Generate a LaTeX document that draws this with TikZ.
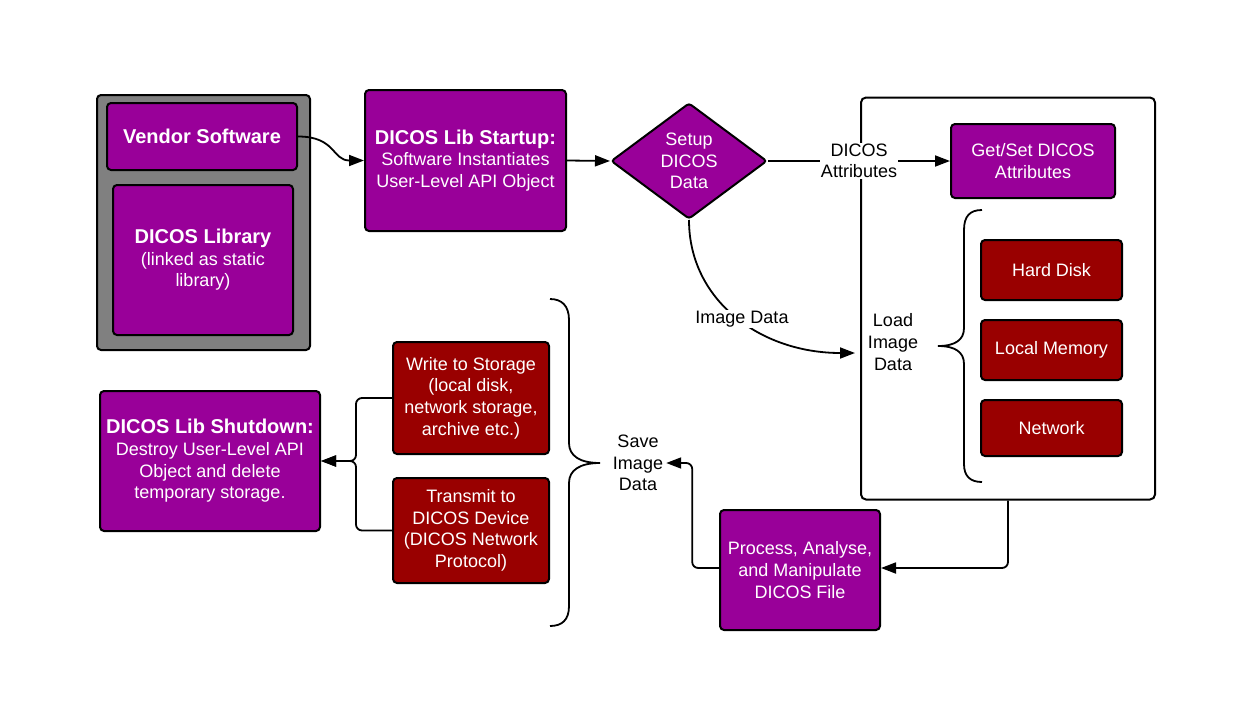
\documentclass[tikz,border=0pt]{standalone}
\usepackage{fontspec}
\setmainfont{Liberation Sans}
\usetikzlibrary{arrows.meta,shapes.geometric}
\definecolor{purp}{RGB}{153,0,153}
\definecolor{dred}{RGB}{153,0,0}
\definecolor{grayf}{RGB}{128,128,128}
\newcommand\hdr[1]{{\fontsize{20}{22}\selectfont\bfseries #1}}
\begin{document}
\begin{tikzpicture}[x=1pt,y=-1pt,
 box/.style={draw=black,line width=2pt,rounded corners=4pt,text=white,align=center,inner sep=0pt,font=\fontsize{18}{21.6}\selectfont},
 pbox/.style={box,fill=purp},
 rbox/.style={box,fill=dred},
 lbl/.style={align=center,font=\fontsize{18}{21.6}\selectfont,inner sep=1pt},
 conn/.style={line width=1.8pt,-{Triangle[length=15pt,width=11pt]}},
 plain/.style={line width=1.8pt},
]
\useasboundingbox (0,0) rectangle (1247,720);
\fill[white] (0,0) rectangle (1247,720);

% left column
\node[draw,line width=2pt,rounded corners=4pt,fill=grayf,minimum width=213pt,minimum height=255pt,inner sep=0pt] (vendorframe) at (203.5,222.5) {};
\node[pbox,minimum width=190pt,minimum height=67pt] (vendor) at (202,136.5) {\hdr{Vendor Software}};
\node[pbox,minimum width=180pt,minimum height=150pt] (library) at (203,260) {\hdr{DICOS Library}\\(linked as static\\library)};
\node[pbox,minimum width=201pt,minimum height=141pt] (startup) at (465.5,160.5) {\hdr{DICOS Lib Startup:}\\Software Instantiates\\User-Level API Object};
\node[pbox,shape=diamond,minimum width=156pt,minimum height=116pt,rounded corners=3pt] (setup) at (689,161) {Setup\\DICOS\\Data};

% right frame
\node[draw,line width=2pt,rounded corners=5pt,fill=white,minimum width=294pt,minimum height=402pt,inner sep=0pt] (loadframe) at (1008,298.5) {};
\node[pbox,minimum width=164pt,minimum height=74pt] (getset) at (1033,161) {Get/Set DICOS\\Attributes};
\node[rbox,minimum width=141pt,minimum height=60pt] (hdd) at (1051.5,270) {Hard Disk};
\node[rbox,minimum width=141pt,minimum height=60pt] (mem) at (1051.5,350) {Local Memory};
\node[rbox,minimum width=141pt,minimum height=56pt] (net) at (1051.5,428) {Network};
\node[lbl] (loadlbl) at (893,342) {Load\\Image\\Data};

% bottom
\node[pbox,minimum width=160pt,minimum height=120pt] (process) at (800,570) {Process, Analyse,\\and Manipulate\\DICOS File};
\node[lbl] (savelbl) at (638,463) {Save\\Image\\Data};
\node[rbox,minimum width=156pt,minimum height=112pt] (write) at (471,398) {Write to Storage\\(local disk,\\network storage,\\archive etc.)};
\node[rbox,minimum width=156pt,minimum height=105pt] (transmit) at (471,530.5) {Transmit to\\DICOS Device\\(DICOS Network\\Protocol)};
\node[pbox,minimum width=220pt,minimum height=140pt] (shutdown) at (210,461) {\hdr{DICOS Lib Shutdown:}\\Destroy User-Level API\\Object and delete\\temporary storage.};

% connectors
\draw[conn] (vendor.east) .. controls +(38,0) and +(-32,0) .. (startup.west);
\draw[conn] (startup.east) -- (setup.west);
\draw[conn] (setup.east) -- node[lbl,fill=white] (attrlbl) {DICOS\\Attributes} (getset.west);
\coordinate (imgin) at (855,353);
\draw[conn] (setup.south) .. controls (689,300) and (760,353) .. (imgin);
\node[lbl,fill=white] (imglbl) at (742,319) {Image Data};
\draw[conn,rounded corners=6pt] (loadframe.south) |- ([yshift=2pt]process.east);
\draw[conn,rounded corners=6pt] ([yshift=2pt]process.west) -| ([xshift=28pt]savelbl.east) -- ([xshift=2pt]savelbl.east);
\coordinate (join) at (356,461);
\draw[conn,rounded corners=6pt] (write.west) -| (join) -- (shutdown.east);
\draw[conn,rounded corners=6pt] (transmit.west) -| (join) -- (shutdown.east);

% braces
\draw[plain] (982,210) .. controls (970,210) and (964,216) .. (964,230) -- (964,328)
  .. controls (964,340) and (955,346) .. (938,346)
  .. controls (955,346) and (964,352) .. (964,364) -- (964,464)
  .. controls (964,476) and (970,482) .. (982,482);
\draw[plain] (550,299) .. controls (562,299) and (569,306) .. (569,320) -- (569,443)
  .. controls (569,456) and (580,463) .. (600,463)
  .. controls (580,463) and (569,470) .. (569,483) -- (569,606)
  .. controls (569,620) and (562,626) .. (550,626);
\end{tikzpicture}
\end{document}
